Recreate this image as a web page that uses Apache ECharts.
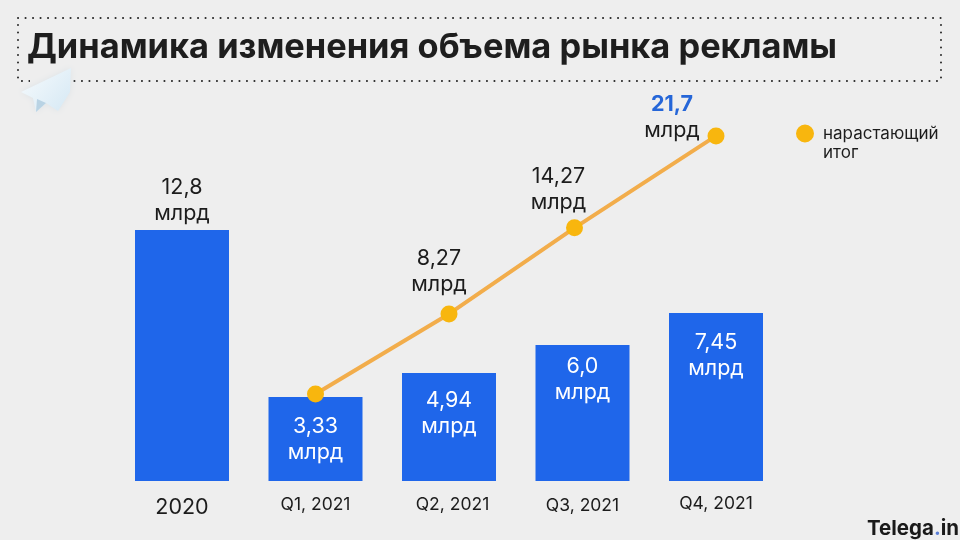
<!DOCTYPE html>
<html>
<head>
	<meta charset="utf-8">
	<title>Динамика изменения объема рынка рекламы</title>
	<script src="https://cdn.jsdelivr.net/npm/echarts@6/dist/echarts.min.js"></script>
	<style>
		html, body { margin: 0; padding: 0; background: #eeeeee; }
	</style>
</head>
<body>
	<div id="main" style="width: 960px;height: 540px;"></div>
</body>
<script type="text/javascript">
	var categories = ['2020', 'Q1, 2021', 'Q2, 2021', 'Q3, 2021', 'Q4, 2021'];
	// the artwork is not drawn to scale, so heights are read off the picture (2020 bar = 12.8)
	var barHeights = [12.8, 4.29, 5.51, 6.94, 8.57];
	var barLabels = ['12,8', '3,33', '4,94', '6,0', '7,45'];
	// the running total starts at Q1; Q3 sits slightly left of its bar in the picture
	var totalPositions = [1.0, 2.0, 2.94, 4.0];
	var totalHeights = [4.44, 8.52, 12.91, 17.6];
	var totalLabels = [null, '8,27', '14,27', '21,7'];
	var unit = 'млрд';
	var totalName = 'нарастающий итог';

	var font = 'Inter';
	var labelSize = 21.5;
	var myChart = echarts.init(document.getElementById('main'));

	var barDistances = [3, 17, 15, 9, 17];
	var barData = barHeights.map(function (v, i) {
		var first = i === 0;
		return {
			value: v,
			label: {
				show: true,
				position: first ? 'top' : 'insideTop',
				distance: barDistances[i],
				color: first ? '#1c1c1c' : '#ffffff',
				formatter: barLabels[i] + '\n' + unit
			}
		};
	});

	// label offsets from their points
	var totalOffsets = [null, [-10, -3], [-16, 1], [-44, 21]];
	var totalData = totalHeights.map(function (v, i) {
		var point = [totalPositions[i], v];
		if (!totalLabels[i]) return point;
		var last = i === totalLabels.length - 1;
		return {
			value: point,
			label: {
				show: true,
				position: 'top',
				offset: totalOffsets[i],
				lineHeight: 26,
				fontSize: labelSize,
				fontFamily: font,
				color: '#1c1c1c',
				formatter: last ? '{b|' + totalLabels[i] + '}\n' + unit : totalLabels[i] + '\n' + unit,
				rich: { b: { fontSize: labelSize, fontWeight: 'bold', fontFamily: font, color: '#2566d8', lineHeight: 26 } }
			}
		};
	});

	var option = {
		backgroundColor: '#eeeeee',
		animation: false,
		textStyle: { fontFamily: font },
		title: {
			text: 'Динамика изменения объема рынка рекламы',
			left: 22,
			top: 26,
			textStyle: { fontFamily: font, fontSize: 34.4, fontWeight: 'bold', color: '#1e1e1e' }
		},
		legend: {
			left: 791,
			top: 119,
			// circle on top of a tall empty box so it lines up with the first text line
			icon: 'path://M0 9a9 9 0 1 0 18 0a9 9 0 1 0-18 0zM9 38h0.01',
			itemWidth: 18,
			itemHeight: 38,
			itemGap: 0,
			data: [totalName],
			formatter: function () { return 'нарастающий\nитог'; },
			textStyle: { fontFamily: font, fontSize: 17, lineHeight: 19.5, color: '#1c1c1c', padding: [0, 0, 0, 4] }
		},
		grid: { left: 115.25, width: 667.5, top: 81, height: 400 },
		xAxis: [
			{
				type: 'category',
				data: categories,
				axisLine: { show: false },
				axisTick: { show: false },
				axisLabel: {
					margin: 14,
					formatter: function (v, i) { return '{l' + i + '|' + v + '}'; },
					rich: {
						l0: { fontFamily: font, fontSize: 21.5, color: '#1c1c1c', padding: [2, 0, 0, 0] },
						l1: { fontFamily: font, fontSize: 17.5, color: '#1c1c1c', padding: [1, 0, 0, 0] },
						l2: { fontFamily: font, fontSize: 17.5, color: '#1c1c1c', padding: [1, 0, 0, 7] },
						l3: { fontFamily: font, fontSize: 17.5, color: '#1c1c1c', padding: [2, 0, 0, 0] },
						l4: { fontFamily: font, fontSize: 17.5, color: '#1c1c1c' }
					}
				}
			},
			// value axis for the line, running over the same span as the categories
			{ type: 'value', min: -0.5, max: 4.5, show: false }
		],
		yAxis: { type: 'value', min: 0, max: 20.4, show: false },
		series: [
			{
				name: 'объем',
				type: 'bar',
				barWidth: 94,
				itemStyle: { color: '#1f66ea' },
				label: { fontFamily: font, fontSize: labelSize, lineHeight: 26 },
				data: barData
			},
			{
				name: totalName,
				type: 'line',
				xAxisIndex: 1,
				symbol: 'circle',
				symbolSize: 17,
				lineStyle: { color: '#f2ad4b', width: 4 },
				itemStyle: { color: '#f8b60e' },
				data: totalData
			}
		],
		graphic: [
			{
				type: 'rect',
				shape: { x: 18, y: 18, width: 923, height: 63 },
				style: { fill: null, stroke: '#2a2a2a', lineWidth: 2, lineDash: [0.1, 7.4], lineCap: 'round' },
				silent: true
			},
			// gap in the frame behind the paper plane
			{ type: 'rect', shape: { x: 30, y: 78, width: 40, height: 6 }, style: { fill: '#eeeeee' }, z: 5, silent: true },
			{
				type: 'polygon',
				shape: { points: [[71, 68], [21, 92], [33, 98], [36, 112], [46, 103], [58, 111], [70, 92]] },
				style: {
					fill: new echarts.graphic.LinearGradient(0, 0, 1, 1, [
						{ offset: 0, color: '#f7fbfd' },
						{ offset: 1, color: '#d5e8f4' }
					]),
					shadowBlur: 6,
					shadowColor: 'rgba(190,205,215,0.35)'
				},
				z: 6,
				silent: true
			},
			{
				type: 'polygon',
				shape: { points: [[37, 99], [36, 112], [46, 103]] },
				style: { fill: '#b9d3e4' },
				z: 7,
				silent: true
			},
			{
				type: 'text',
				left: 867,
				top: 518,
				style: {
					text: 'Telega{d|.}in',
					fontFamily: font,
					fontSize: 20.5,
					fontWeight: 'bold',
					fill: '#1a1a1a',
					rich: { d: { fontFamily: font, fontSize: 20.5, fontWeight: 'bold', fill: '#5b7fd6' } }
				},
				silent: true
			}
		]
	};
	myChart.setOption(option);
</script>
</html>
